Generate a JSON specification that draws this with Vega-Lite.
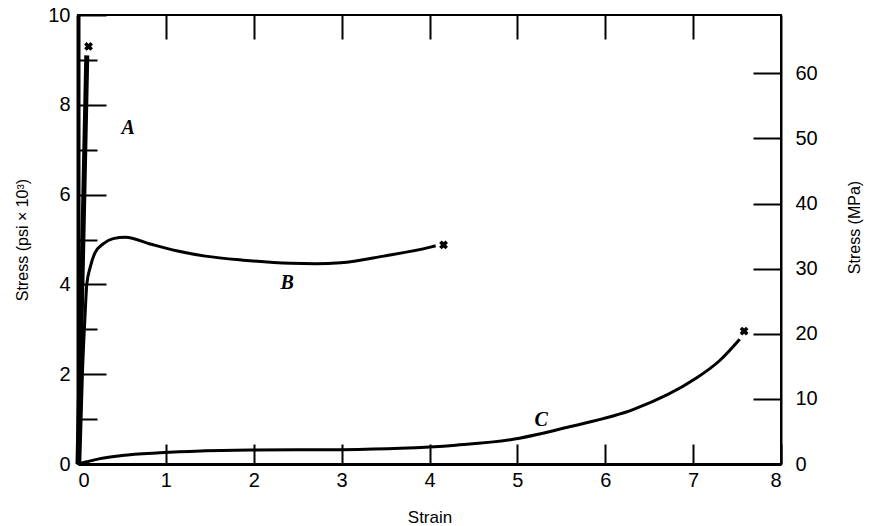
{
  "$schema": "https://vega.github.io/schema/vega-lite/v6.json",
  "width": 703,
  "height": 449,
  "autosize": "none",
  "padding": {"left": 78, "top": 15, "right": 90, "bottom": 62},
  "background": "white",
  "config": {
    "view": {"stroke": "black", "strokeWidth": 2},
    "axis": {
      "grid": false,
      "domainColor": "black",
      "tickColor": "black",
      "labelColor": "black",
      "titleColor": "black",
      "labelFont": "Liberation Sans",
      "titleFont": "Liberation Sans",
      "labelFontSize": 20,
      "titleFontWeight": "normal",
      "tickWidth": 2,
      "domainWidth": 2
    }
  },
  "datasets": {
    "curves": [
      {"curve": "A", "strain": 0.0, "stress": 0},
      {"curve": "A", "strain": 0.05, "stress": 4.5},
      {"curve": "A", "strain": 0.1, "stress": 9.1},
      {"curve": "B", "strain": 0.02, "stress": 0},
      {"curve": "B", "strain": 0.05, "stress": 2.0},
      {"curve": "B", "strain": 0.08, "stress": 3.3},
      {"curve": "B", "strain": 0.1, "stress": 4.0},
      {"curve": "B", "strain": 0.14, "stress": 4.39},
      {"curve": "B", "strain": 0.19, "stress": 4.69},
      {"curve": "B", "strain": 0.29, "stress": 4.91},
      {"curve": "B", "strain": 0.4, "stress": 5.02},
      {"curve": "B", "strain": 0.54, "stress": 5.05},
      {"curve": "B", "strain": 0.82, "stress": 4.9},
      {"curve": "B", "strain": 1.12, "stress": 4.75},
      {"curve": "B", "strain": 1.45, "stress": 4.63},
      {"curve": "B", "strain": 1.88, "stress": 4.54},
      {"curve": "B", "strain": 2.42, "stress": 4.47},
      {"curve": "B", "strain": 2.7, "stress": 4.46},
      {"curve": "B", "strain": 2.99, "stress": 4.48},
      {"curve": "B", "strain": 3.48, "stress": 4.63},
      {"curve": "B", "strain": 4.01, "stress": 4.83},
      {"curve": "B", "strain": 4.07, "stress": 4.86},
      {"curve": "C", "strain": 0.0, "stress": 0},
      {"curve": "C", "strain": 0.1, "stress": 0.05},
      {"curve": "C", "strain": 0.25, "stress": 0.12},
      {"curve": "C", "strain": 0.5, "stress": 0.19},
      {"curve": "C", "strain": 0.93, "stress": 0.25},
      {"curve": "C", "strain": 1.4, "stress": 0.29},
      {"curve": "C", "strain": 2.0, "stress": 0.31},
      {"curve": "C", "strain": 3.0, "stress": 0.32},
      {"curve": "C", "strain": 3.67, "stress": 0.35},
      {"curve": "C", "strain": 4.3, "stress": 0.42},
      {"curve": "C", "strain": 4.92, "stress": 0.54},
      {"curve": "C", "strain": 5.57, "stress": 0.82},
      {"curve": "C", "strain": 6.33, "stress": 1.22},
      {"curve": "C", "strain": 7.01, "stress": 1.88},
      {"curve": "C", "strain": 7.3, "stress": 2.3},
      {"curve": "C", "strain": 7.53, "stress": 2.78}
    ],
    "breaks": [
      {"curve": "A", "strain": 0.12, "stress": 9.3},
      {"curve": "B", "strain": 4.16, "stress": 4.88},
      {"curve": "C", "strain": 7.58, "stress": 2.96}
    ],
    "labels": [
      {"label": "A", "strain": 0.57, "stress": 7.48},
      {"label": "B", "strain": 2.38, "stress": 4.03},
      {"label": "C", "strain": 5.27, "stress": 0.98}
    ],
    "mpa": [
      {"mpa": 0},
      {"mpa": 60}
    ]
  },
  "layer": [
    {
      "data": {"name": "curves"},
      "transform": [{"filter": "datum.curve === 'A'"}],
      "mark": {"type": "line", "color": "black", "strokeWidth": 5},
      "encoding": {
        "x": {"field": "strain", "type": "quantitative", "scale": {"domain": [0, 8], "nice": false},
          "axis": {"orient": "bottom", "values": [0,1,2,3,4,5,6,7,8], "tickSize": -20, "labelPadding": 26, "title": "Strain", "titleFontSize": 17, "titlePadding": 19, "domainWidth": 3}},
        "y": {"field": "stress", "type": "quantitative", "scale": {"domain": [0, 10], "nice": false},
          "axis": {"orient": "left", "values": [0,2,4,6,8,10], "tickSize": -28, "labelPadding": 36, "title": "Stress (psi × 10³)", "titleFontSize": 16, "titlePadding": 17, "domainWidth": 4}}
      }
    },
    {
      "data": {"name": "curves"},
      "transform": [{"filter": "datum.curve !== 'A'"}],
      "mark": {"type": "line", "color": "black", "strokeWidth": 3, "interpolate": "monotone"},
      "encoding": {
        "x": {"field": "strain", "type": "quantitative", "scale": {"domain": [0, 8], "nice": false},
          "axis": {"orient": "top", "values": [1,2,3,4,5,6,7], "tickSize": -24, "labels": false, "title": null, "domain": false}},
        "y": {"field": "stress", "type": "quantitative", "scale": {"domain": [0, 10], "nice": false},
          "axis": {"orient": "left", "values": [1,3,5,7,9], "tickSize": -19, "labels": false, "title": null, "domain": false}},
        "detail": {"field": "curve"}
      }
    },
    {
      "data": {"name": "breaks"},
      "mark": {"type": "point", "shape": "cross", "angle": 45, "filled": true, "color": "black", "size": 80, "opacity": 1},
      "encoding": {
        "x": {"field": "strain", "type": "quantitative", "scale": {"domain": [0, 8], "nice": false}, "axis": null},
        "y": {"field": "stress", "type": "quantitative", "scale": {"domain": [0, 10], "nice": false}, "axis": null}
      }
    },
    {
      "data": {"name": "labels"},
      "mark": {"type": "text", "font": "Liberation Serif", "fontStyle": "italic", "fontWeight": "bold", "fontSize": 20, "color": "black"},
      "encoding": {
        "x": {"field": "strain", "type": "quantitative", "scale": {"domain": [0, 8], "nice": false}, "axis": null},
        "y": {"field": "stress", "type": "quantitative", "scale": {"domain": [0, 10], "nice": false}, "axis": null},
        "text": {"field": "label"}
      }
    },
    {
      "data": {"name": "mpa"},
      "mark": {"type": "point", "opacity": 0},
      "encoding": {
        "y": {"field": "mpa", "type": "quantitative", "scale": {"domain": [0, 68.95], "nice": false, "zero": true},
          "axis": {"orient": "right", "values": [0,10,20,30,40,50,60], "tickSize": -28, "labelPadding": 42, "title": "Stress (MPa)", "titleFontSize": 16, "titleAngle": -90, "titlePadding": 45, "titleY": 212, "domainWidth": 2}}
      }
    }
  ],
  "resolve": {
    "scale": {"y": "independent"},
    "axis": {"x": "independent", "y": "independent"}
  }
}
